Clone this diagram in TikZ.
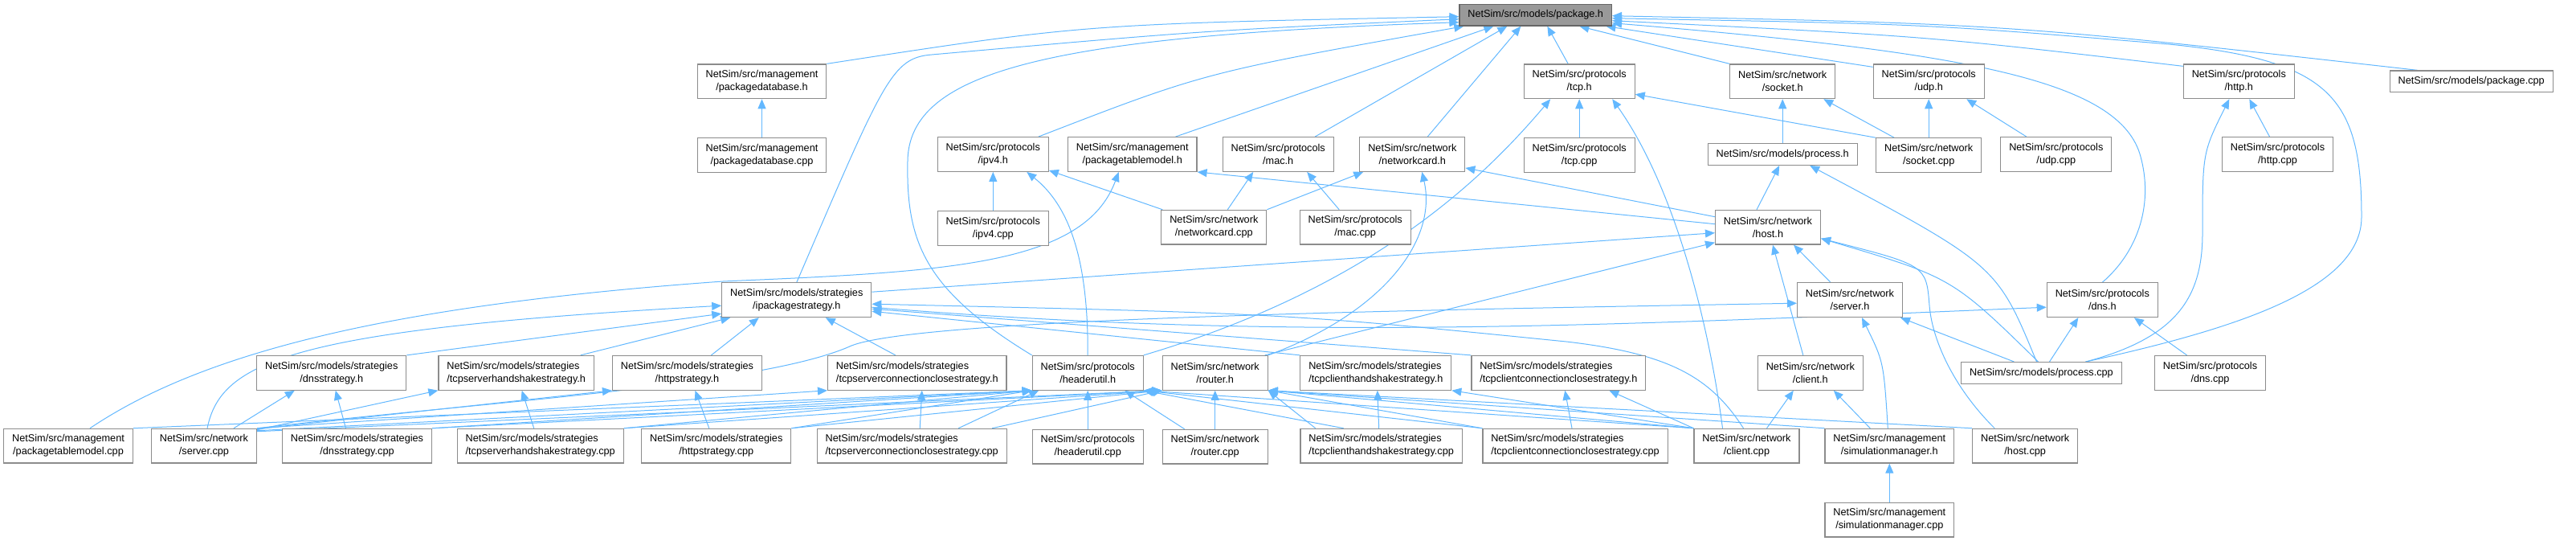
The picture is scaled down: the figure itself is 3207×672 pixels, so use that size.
\documentclass[tikz,border=0pt]{standalone}
\usepackage{fontspec}
\setmainfont{Liberation Sans}
\usepackage{xcolor}
\usetikzlibrary{
    arrows.meta,
    positioning,
    backgrounds
}
\definecolor{edgeblue}{HTML}{63B8FF}
\definecolor{boxgray}{HTML}{8C8C8C}
\definecolor{focusgray}{HTML}{999999}

\begin{document}
\begin{tikzpicture}[
x=1pt, y=-1pt,
node distance=48pt,
box/.style={
draw=boxgray,
line width=1.2pt,
fill=white,
align=center,
inner xsep=10.4pt,
inner ysep=2pt,
minimum height=42.7pt,
font=\fontsize{12.7}{16}\selectfont
},
flatbox/.style={box, minimum height=26.7pt},
leftbox/.style={box, align=left},
dep/.style={draw=edgeblue, line width=1pt, -{Triangle[length=12pt,width=10pt]}}
]
\useasboundingbox (0,0) rectangle (3207,672);

% rank 0 and 1
\node[flatbox, fill=focusgray, draw=black!60] (pkgh) at (1911.7,18.7)
{NetSim/src/models/package.h};

\node[box] (pkgdbh) at (948.5,101.3)
{NetSim/src/management\\/packagedatabase.h};
\node[box] (tcph) at (1966.2,101.3)
{NetSim/src/protocols\\/tcp.h};
\node[box] (socketh) at (2219.2,101.3)
{NetSim/src/network\\/socket.h};
\node[box] (udph) at (2401.2,101.3)
{NetSim/src/protocols\\/udp.h};
\node[box] (httph) at (2787.3,101.3)
{NetSim/src/protocols\\/http.h};
\node[flatbox] (pkgcpp) at (3076.7,101.3)
{NetSim/src/models/package.cpp};

% rank 2
\node[box, below=of pkgdbh] (pkgdbcpp)
{NetSim/src/management\\/packagedatabase.cpp};
\node[box] (ipv4h) at (1236.3,192)
{NetSim/src/protocols\\/ipv4.h};
\node[box] (ptmh) at (1409.7,192)
{NetSim/src/management\\/packagetablemodel.h};
\node[box] (mach) at (1591.2,192)
{NetSim/src/protocols\\/mac.h};
\node[box] (nich) at (1758.3,192)
{NetSim/src/network\\/networkcard.h};
\node[box, below=of tcph] (tcpcpp)
{NetSim/src/protocols\\/tcp.cpp};
\node[flatbox] (processh) at (2219.2,192)
{NetSim/src/models/process.h};
\node[box, below=of udph] (socketcpp)
{NetSim/src/network\\/socket.cpp};
\node[box] (udpcpp) at (2559.8,192)
{NetSim/src/protocols\\/udp.cpp};
\node[box] (httpcpp) at (2835.5,192)
{NetSim/src/protocols\\/http.cpp};

% rank 3
\node[box, below=of ipv4h] (ipv4cpp)
{NetSim/src/protocols\\/ipv4.cpp};
\node[box] (niccpp) at (1511.3,282.7)
{NetSim/src/network\\/networkcard.cpp};
\node[box] (maccpp) at (1687.2,282.7)
{NetSim/src/protocols\\/mac.cpp};
\node[box] (hosth) at (2201,282.7)
{NetSim/src/network\\/host.h};

% rank 4
\node[box] (ipsh) at (991.8,373.2)
{NetSim/src/models/strategies\\/ipackagestrategy.h};
\node[box] (serverh) at (2303,373.2)
{NetSim/src/network\\/server.h};
\node[box] (dnsh) at (2617.3,373.2)
{NetSim/src/protocols\\/dns.h};

% rank 5
\node[box] (dnssh) at (412.8,463.8)
{NetSim/src/models/strategies\\/dnsstrategy.h};
\node[leftbox] (tshsh) at (642.7,463.8)
{NetSim/src/models/strategies\\/tcpserverhandshakestrategy.h};
\node[box] (httpsh) at (855.5,463.8)
{NetSim/src/models/strategies\\/httpstrategy.h};
\node[leftbox] (tsccsh) at (1141.8,463.8)
{NetSim/src/models/strategies\\/tcpserverconnectionclosestrategy.h};
\node[box] (headerh) at (1354.2,463.8)
{NetSim/src/protocols\\/headerutil.h};
\node[box] (routerh) at (1512.7,463.8)
{NetSim/src/network\\/router.h};
\node[leftbox] (tchsh) at (1712.8,463.8)
{NetSim/src/models/strategies\\/tcpclienthandshakestrategy.h};
\node[leftbox] (tccsh) at (1940.3,463.8)
{NetSim/src/models/strategies\\/tcpclientconnectionclosestrategy.h};
\node[box] (clienth) at (2253.8,463.8)
{NetSim/src/network\\/client.h};
\node[flatbox] (processcpp) at (2541.5,464)
{NetSim/src/models/process.cpp};
\node[box] (dnscpp) at (2751.5,463.8)
{NetSim/src/protocols\\/dns.cpp};

% rank 6 and 7
\node[box] (ptmcpp) at (85,554.7)
{NetSim/src/management\\/packagetablemodel.cpp};
\node[box] (servercpp) at (254,554.7)
{NetSim/src/network\\/server.cpp};
\node[box] (dnsscpp) at (444.5,554.7)
{NetSim/src/models/strategies\\/dnsstrategy.cpp};
\node[leftbox] (tshscpp) at (672.7,554.7)
{NetSim/src/models/strategies\\/tcpserverhandshakestrategy.cpp};
\node[box] (httpscpp) at (891.8,554.7)
{NetSim/src/models/strategies\\/httpstrategy.cpp};
\node[leftbox] (tsccscpp) at (1135.2,554.7)
{NetSim/src/models/strategies\\/tcpserverconnectionclosestrategy.cpp};
\node[box, below=of headerh] (headercpp)
{NetSim/src/protocols\\/headerutil.cpp};
\node[box, below=of routerh] (routercpp)
{NetSim/src/network\\/router.cpp};
\node[leftbox] (tchscpp) at (1719.7,554.7)
{NetSim/src/models/strategies\\/tcpclienthandshakestrategy.cpp};
\node[leftbox] (tccscpp) at (1961,554.7)
{NetSim/src/models/strategies\\/tcpclientconnectionclosestrategy.cpp};
\node[box] (clientcpp) at (2174.5,554.7)
{NetSim/src/network\\/client.cpp};
\node[box] (simmgrh) at (2352.3,554.7)
{NetSim/src/management\\/simulationmanager.h};
\node[box] (hostcpp) at (2521.2,554.7)
{NetSim/src/network\\/host.cpp};
\node[box, below=of simmgrh] (simmgrcpp)
{NetSim/src/management\\/simulationmanager.cpp};

\begin{scope}[on background layer]
% into package.h
\draw[dep] (pkgdbh.north east) .. controls (1350,30) .. ([yshift=-2]pkgh.west);
\draw[dep] (ipsh.north) .. controls (1100,100) and (1110,72) .. (1160,68) .. controls (1500,38) .. ([yshift=-5]pkgh.west);
\draw[dep] (headerh.north west) .. controls (1150,360) and (1128,300) .. (1130,200) .. controls (1132,90) and (1300,45) .. ([yshift=-9]pkgh.west);
\draw[dep] ([xshift=-13]ipv4h.north east) .. controls (1500,90) .. ([xshift=6]pkgh.south west);
\draw[dep] ([xshift=-27]ptmh.north east) -- ([xshift=43]pkgh.south west);
\draw[dep] ([xshift=46]mach.north) -- ([xshift=60]pkgh.south west);
\draw[dep] ([xshift=19]nich.north) -- ([xshift=77]pkgh.south west);
\draw[dep] ([xshift=-14]tcph.north) -- ([xshift=110]pkgh.south west);
\draw[dep] (socketh.north west) -- ([xshift=150]pkgh.south west);
\draw[dep] ([yshift=-4]udph.north west) -- ([xshift=183]pkgh.south west);
\draw[dep] ([yshift=-3]httph.north west) .. controls (2400,45) .. ([yshift=-7]pkgh.east);
\draw[dep] ([xshift=-67]pkgcpp.north) .. controls (2500,30) .. ([yshift=-1]pkgh.east);
\draw[dep] ([xshift=55]processcpp.north) .. controls (2780,410) and (2940,360) .. (2940,270) .. controls (2940,120) and (2900,75) .. (2700,55) .. controls (2400,30) .. ([yshift=-4]pkgh.east);
\draw[dep] (dnsh.north) .. controls (2665,310) and (2680,250) .. (2665,195) .. controls (2640,100) and (2450,65) .. ([yshift=-10]pkgh.east);

% rank 1 headers
\draw[dep] (pkgdbcpp) -- (pkgdbh);
\draw[dep] (tcpcpp) -- (tcph);
\draw[dep] (socketcpp.north west) -- ([yshift=6]tcph.south east);
\draw[dep] (headerh.north east) .. controls (1700,360) and (1840,230) .. ([xshift=-36]tcph.south);
\draw[dep] ([xshift=-30]clientcpp.north) .. controls (2130,420) and (2090,240) .. ([xshift=41]tcph.south);
\draw[dep] (processh) -- (socketh);
\draw[dep] ([xshift=-43]socketcpp.north) -- ([xshift=51]socketh.south);
\draw[dep] (socketcpp) -- (udph);
\draw[dep] ([xshift=-37]udpcpp.north) -- ([xshift=47]udph.south);
\draw[dep] ([xshift=-10]httpcpp.north) -- ([xshift=13]httph.south);
\draw[dep] ([xshift=55]processcpp.north) .. controls (2710,420) and (2742,370) .. (2742,290) .. controls (2742,190) .. ([xshift=-12]httph.south);
\draw[dep] ([xshift=-14]hosth.north) -- ([xshift=-4]processh.south);
\draw[dep] ([xshift=-6]processcpp.north) .. controls (2486,330) .. ([xshift=34]processh.south);

% rank 2 headers
\draw[dep] (ipv4cpp) -- (ipv4h);
\draw[dep] ([xshift=2]niccpp.north west) -- ([yshift=2]ipv4h.south east);
\draw[dep] (headerh.north) .. controls (1355,320) and (1330,255) .. ([xshift=42]ipv4h.south);
\draw[dep] ([xshift=27]ptmcpp.north) .. controls (250,440) and (480,380) .. (900,350) .. controls (1180,338) and (1350,330) .. ([xshift=-17]ptmh.south);
\draw[dep] ([yshift=4]hosth.west) -- (ptmh.south east);
\draw[dep] ([xshift=17]niccpp.north) -- ([xshift=-31]mach.south);
\draw[dep] ([xshift=-20]maccpp.north) -- ([xshift=36]mach.south);
\draw[dep] (niccpp.north east) -- ([xshift=5]nich.south west);
\draw[dep] ([yshift=13]hosth.west) -- ([yshift=5]nich.south east);
\draw[dep] (routerh.north east) .. controls (1720,390) and (1790,300) .. ([xshift=12]nich.south);

% host.h
\draw[dep] ([xshift=-4]routerh.north east) -- ([yshift=3]hosth.south west);
\draw[dep] ([yshift=10]ipsh.east) -- ([yshift=-7]hosth.west);
\draw[dep] ([xshift=-9]clienth.north) -- ([xshift=6]hosth.south);
\draw[dep] ([xshift=-24]serverh.north) -- ([xshift=32]hosth.south);
\draw[dep] ([xshift=-38]hostcpp.north) .. controls (2430,480) and (2405,420) .. (2402,380) .. controls (2398,330) .. ([yshift=-14]hosth.east);
\draw[dep] ([xshift=-4]processcpp.north) .. controls (2430,345) .. ([yshift=-14]hosth.east);

% server.h, dns.h, client.h
\draw[dep] (servercpp.north east) .. controls (600,500) and (950,480) .. (1060,430) .. controls (1150,395) and (1800,385) .. ([yshift=-4]serverh.west);
\draw[dep] ([xshift=-34]processcpp.north) -- ([xshift=-3]serverh.south east);
\draw[dep] ([xshift=-2]simmgrh.north) .. controls (2345,450) .. ([xshift=15]serverh.south);
\draw[dep] ([yshift=-9]ipsh.east) .. controls (1600,425) and (2000,405) .. ([yshift=-9]dnsh.west);
\draw[dep] ([xshift=10]processcpp.north) -- ([xshift=-30]dnsh.south);
\draw[dep] ([xshift=-29]dnscpp.north) -- ([xshift=-30]dnsh.south east);
\draw[dep] ([xshift=25]clientcpp.north) -- ([xshift=-21]clienth.south);
\draw[dep] ([xshift=-24]simmgrh.north) -- ([xshift=29]clienth.south);
\draw[dep] (simmgrcpp) -- (simmgrh);

% ipackagestrategy.h
\draw[dep] ([xshift=4]servercpp.north) .. controls (275,450) and (360,410) .. ([yshift=-7]ipsh.west);
\draw[dep] (dnssh.north east) -- ([yshift=-17]ipsh.west);
\draw[dep] ([xshift=80]tshsh.north) -- ([xshift=11]ipsh.south west);
\draw[dep] ([xshift=30]httpsh.north) -- ([xshift=-47]ipsh.south);
\draw[dep] ([xshift=-27]tsccsh.north) -- ([xshift=36]ipsh.south);
\draw[dep] (tchsh.north west) -- ([yshift=-14]ipsh.east);
\draw[dep] (tccsh.north west) -- ([yshift=-11]ipsh.east);
\draw[dep] ([xshift=-4]clientcpp.north) .. controls (2130,470) and (2080,440) .. (1950,425) .. controls (1600,390) .. ([yshift=-5]ipsh.east);

% strategies
\draw[dep] ([xshift=-14]dnsscpp.north) -- ([xshift=5]dnssh.south);
\draw[dep] ([xshift=37]servercpp.north) -- ([xshift=-46]dnssh.south);
\draw[dep] ([xshift=-8]tshscpp.north) -- ([xshift=7]tshsh.south);
\draw[dep] ([yshift=-2]servercpp.north east) -- (tshsh.south west);
\draw[dep] ([xshift=-9]httpscpp.north) -- ([xshift=10]httpsh.south);
\draw[dep] ([yshift=-1]servercpp.north east) -- (httpsh.south west);
\draw[dep] ([xshift=10]tsccscpp.north) -- ([xshift=6]tsccsh.south);
\draw[dep] (servercpp.north east) -- (tsccsh.south west);
\draw[dep] ([xshift=-3]tchscpp.north) -- ([xshift=2]tchsh.south);
\draw[dep] (clientcpp.north west) -- (tchsh.south east);
\draw[dep] ([xshift=-4]tccscpp.north) -- ([xshift=8]tccsh.south);
\draw[dep] (clientcpp.north west) -- ([xshift=63]tccsh.south);

% headerutil.h and router.h
\draw[dep] (headercpp) -- (headerh);
\draw[dep] (routercpp) -- (routerh);
\draw[dep] ([xshift=-38]routercpp.north) -- ([xshift=46]headerh.south);
\draw[dep] ([xshift=58]tsccscpp.north) -- ([xshift=-61]headerh.south);
\draw[dep] ([xshift=100]tsccscpp.north) -- (routerh.south west);
\draw[dep] (ptmcpp.north east) -- (headerh.south west);
\draw[dep] ([yshift=-3]servercpp.north east) -- (headerh.south west);
\draw[dep] ([yshift=-4]servercpp.north east) -- (routerh.south west);
\draw[dep] (dnsscpp.north east) -- (headerh.south west);
\draw[dep] (dnsscpp.north east) -- (routerh.south west);
\draw[dep] (tshscpp.north east) -- (headerh.south west);
\draw[dep] (tshscpp.north east) -- (routerh.south west);
\draw[dep] (httpscpp.north east) -- (headerh.south west);
\draw[dep] (httpscpp.north east) -- (routerh.south west);
\draw[dep] ([xshift=-47]tchscpp.north) -- (headerh.south east);
\draw[dep] ([xshift=-82]tchscpp.north) -- (routerh.south east);
\draw[dep] (tccscpp.north west) -- (headerh.south east);
\draw[dep] (tccscpp.north west) -- (routerh.south east);
\draw[dep] (clientcpp.north west) -- (headerh.south east);
\draw[dep] (clientcpp.north west) -- (routerh.south east);
\draw[dep] (simmgrh.north west) -- (routerh.south east);
\draw[dep] (hostcpp.north west) -- (routerh.south east);
\end{scope}

\end{tikzpicture}
\end{document}
